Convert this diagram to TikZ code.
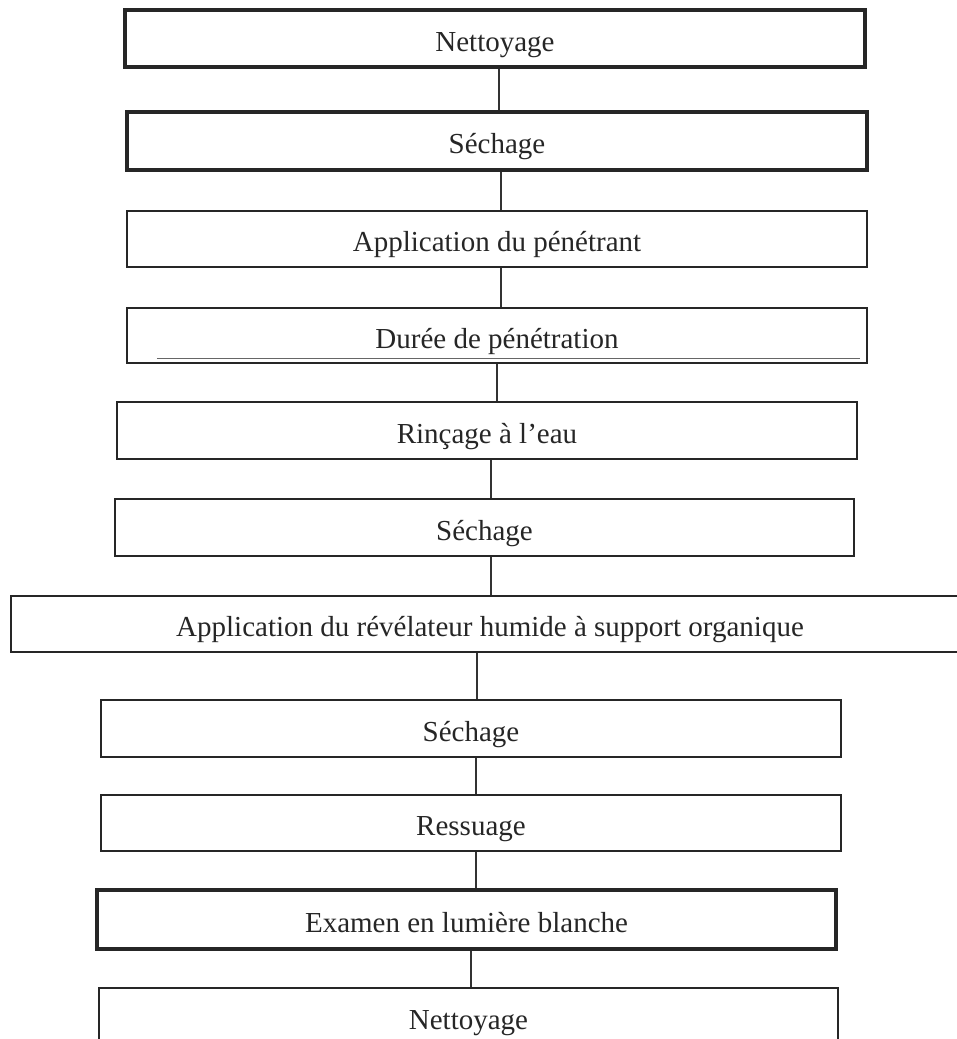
\documentclass[tikz,border=0pt]{standalone}
\usepackage{fontspec}
\setmainfont{Liberation Serif}
\begin{document}
\begin{tikzpicture}[x=0.5pt,y=-0.5pt,
  stepbox/.style={draw=black!85, line width=1.2pt, rectangle, inner sep=0pt,
    text height=12.5pt, text depth=0pt,
    font=\fontsize{14.5pt}{17pt}\selectfont, text=black!85},
  heavy/.style={line width=1.8pt},
  link/.style={draw=black!80, line width=1.2pt},
  underl/.style={draw=black!60, line width=0.7pt}]
\useasboundingbox (0,0) rectangle (957,1039);
\begin{scope}
\clip (0,0) rectangle (957,1039);

% process steps
\node[stepbox,heavy,minimum width=370pt,minimum height=28.5pt] (b1) at (495,38.5) {Nettoyage};
\node[stepbox,heavy,minimum width=370pt,minimum height=29pt] (b2) at (497,141) {Séchage};
\node[stepbox,minimum width=370pt,minimum height=28pt] (b3) at (497,239) {Application du pénétrant};
\node[stepbox,minimum width=370pt,minimum height=27.5pt] (b4) at (497,335.5) {Durée de pénétration};
\node[stepbox,minimum width=370pt,minimum height=28.5pt] (b5) at (487,430.5) {Rinçage à l’eau};
\node[stepbox,minimum width=369.5pt,minimum height=28.5pt] (b6) at (484.5,527.5) {Séchage};
\node[stepbox,minimum width=479pt,minimum height=28pt] (b7) at (490,624) {Application du révélateur humide à support organique};
\node[stepbox,minimum width=370pt,minimum height=28.5pt] (b8) at (471,728.5) {Séchage};
\node[stepbox,minimum width=370pt,minimum height=28pt] (b9) at (471,823) {Ressuage};
\node[stepbox,heavy,minimum width=369.5pt,minimum height=29.5pt] (b10) at (466.5,919.5) {Examen en lumière blanche};
\node[stepbox,minimum width=369.5pt,minimum height=29pt] (b11) at (468.5,1017) {Nettoyage};

% rule inside the penetration-time box
\draw[underl] ([shift={(31,-6)}]b4.south west) -- ([shift={(-8,-6)}]b4.south east);

% vertical links between steps
\coordinate (x1) at (499,0);
\coordinate (x2) at (501,0);
\coordinate (x3) at (501,0);
\coordinate (x4) at (497,0);
\coordinate (x5) at (491,0);
\coordinate (x6) at (491,0);
\coordinate (x7) at (477,0);
\coordinate (x8) at (476,0);
\coordinate (x9) at (476,0);
\coordinate (x10) at (471,0);
\draw[link] (b1.south -| x1) -- (b2.north -| x1);
\draw[link] (b2.south -| x2) -- (b3.north -| x2);
\draw[link] (b3.south -| x3) -- (b4.north -| x3);
\draw[link] (b4.south -| x4) -- (b5.north -| x4);
\draw[link] (b5.south -| x5) -- (b6.north -| x5);
\draw[link] (b6.south -| x6) -- (b7.north -| x6);
\draw[link] (b7.south -| x7) -- (b8.north -| x7);
\draw[link] (b8.south -| x8) -- (b9.north -| x8);
\draw[link] (b9.south -| x9) -- (b10.north -| x9);
\draw[link] (b10.south -| x10) -- (b11.north -| x10);
\end{scope}
\end{tikzpicture}
\end{document}
